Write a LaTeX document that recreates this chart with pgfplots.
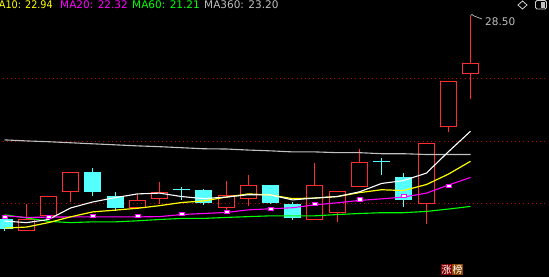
\documentclass[border=0pt]{standalone}
\usepackage{pgfplots}
\usepackage{pgfplotstable}
\pgfplotsset{compat=1.18}
\usepackage{fontspec}
\newfontfamily\dv{DejaVu Sans}
\newfontfamily\cjk{Noto Sans CJK SC}
\definecolor{cred}{RGB}{255,45,45}
\definecolor{ccyan}{RGB}{84,255,255}
\definecolor{cgray}{RGB}{192,192,192}
\definecolor{cdot}{RGB}{190,0,0}
\definecolor{cmag}{RGB}{255,0,255}
\definecolor{cyel}{RGB}{255,255,0}
\definecolor{cgrn}{RGB}{0,255,0}
\definecolor{zbg}{RGB}{128,0,0}
\definecolor{bbg}{RGB}{139,69,0}

% x = horizontal position of each trading day on the chart
% red (rising, hollow) candles: x, open, high, low, close
\pgfplotstableread{
x o h l c
26.5 20.27 21.31 20.27 20.70
48.5 20.87 21.59 20.87 21.59
70.5 21.79 22.50 21.37 22.50
137.5 21.16 21.69 21.16 21.43
159.5 21.53 22.13 21.31 21.73
226.5 21.18 22.17 21.05 21.63
248.5 21.53 22.40 21.21 22.01
314.5 20.70 22.86 20.70 22.01
337.5 20.99 21.82 20.61 21.77
359.5 21.99 23.42 21.99 22.88
426.5 21.33 23.61 20.55 23.61
448.5 24.28 26.00 24.05 26.00
470.5 26.31 28.50 25.31 26.69
}\redtab

% cyan (falling, filled) candles: x, open, high, low, close
\pgfplotstableread{
x o h l c
4.5 20.71 20.71 20.27 20.36
92.5 22.51 22.70 21.60 21.79
115.5 21.58 21.77 21.03 21.18
181.5 21.87 21.95 21.44 21.85
203.5 21.82 21.86 21.25 21.37
270.5 22.01 22.05 21.31 21.37
292.5 21.28 21.37 20.70 20.80
381.5 22.95 23.06 22.40 22.93
403.5 22.32 22.51 21.18 21.49
}\cyantab

% moving averages
\pgfplotstableread{
x ma5 ma10 ma20 ma60 ma360
4.5 20.65 20.38 20.85 20.89 23.76
26.5 20.59 20.42 20.79 20.77 23.72
48.5 20.71 20.59 20.80 20.64 23.69
70.5 21.15 20.81 20.81 20.59 23.65
92.5 21.38 21.00 20.81 20.62 23.61
115.5 21.55 21.07 20.81 20.62 23.57
137.5 21.69 21.14 20.81 20.66 23.53
159.5 21.72 21.24 20.82 20.71 23.50
181.5 21.59 21.36 20.90 20.75 23.46
203.5 21.51 21.42 20.94 20.75 23.42
226.5 21.57 21.57 20.98 20.79 23.41
248.5 21.66 21.69 21.08 20.82 23.37
270.5 21.65 21.65 21.12 20.85 23.34
292.5 21.46 21.51 21.16 20.85 23.30
314.5 21.53 21.53 21.27 20.85 23.30
337.5 21.59 21.59 21.35 20.90 23.27
359.5 21.77 21.74 21.44 20.94 23.27
381.5 22.09 21.85 21.50 20.97 23.23
403.5 22.20 21.82 21.57 20.97 23.23
426.5 22.49 22.05 21.72 21.02 23.20
448.5 23.31 22.45 22.03 21.11 23.20
470.5 24.09 22.94 22.32 21.21 23.20
}\matab

\pgfplotstableread{
x v
4.5 20.82
48.5 20.82
92.5 20.85
137.5 20.85
181.5 20.93
226.5 21.02
270.5 21.13
314.5 21.31
359.5 21.48
403.5 21.62
448.5 22.01
}\sqtab

\pgfplotsset{kbase/.style={hide axis, scale only axis, width=549pt, height=277pt,
  xmin=0, xmax=549, ymin=18.5065, ymax=29.1195,
  at={(0pt,0pt)}, anchor=south west}}

\begin{document}
\begin{tikzpicture}
\useasboundingbox (0pt,0pt) rectangle (549pt,277pt);
\fill[black] (0pt,0pt) rectangle (549pt,277pt);

% dotted guide lines and wicks
\begin{axis}[kbase]
\addplot[cdot, line width=1pt, dash pattern=on 1pt off 3.2pt] coordinates {(-10,26.11) (560,26.11)};
\addplot[cdot, line width=1pt, dash pattern=on 1pt off 3.2pt] coordinates {(-10,23.70) (560,23.70)};
\addplot[cdot, line width=1pt, dash pattern=on 1pt off 3.2pt] coordinates {(-10,21.32) (560,21.32)};
% red wicks (upper and lower, outside the hollow body)
\addplot[draw=none, mark=none, error bars/.cd, y dir=plus, y explicit, error mark=none,
  error bar style={draw=cred, solid, line width=1pt}]
  table[x=x, y=c, y error plus expr=\thisrow{h}-\thisrow{c}] {\redtab};
\addplot[draw=none, mark=none, error bars/.cd, y dir=minus, y explicit, error mark=none,
  error bar style={draw=cred, solid, line width=1pt}]
  table[x=x, y=o, y error minus expr=\thisrow{o}-\thisrow{l}] {\redtab};
% cyan wicks
\addplot[draw=none, mark=none, error bars/.cd, y dir=both, y explicit, error mark=none,
  error bar style={draw=ccyan, solid, line width=1pt}]
  table[x=x, y=c, y error plus expr=\thisrow{h}-\thisrow{c}, y error minus expr=\thisrow{c}-\thisrow{l}] {\cyantab};
\end{axis}

% red bodies
\begin{axis}[kbase, ybar stacked, bar width=16]
\addplot[draw=none, fill=none] table[x=x, y=o] {\redtab};
\addplot[draw=cred, fill=none, solid, line width=1pt] table[x=x, y expr=\thisrow{c}-\thisrow{o}] {\redtab};
\end{axis}

% cyan bodies
\begin{axis}[kbase, ybar stacked, bar width=16]
\addplot[draw=none, fill=none] table[x=x, y=c] {\cyantab};
\addplot[draw=ccyan, fill=ccyan, solid, line width=1pt] table[x=x, y expr=\thisrow{o}-\thisrow{c}] {\cyantab};
\end{axis}

% moving averages
\begin{axis}[kbase]
\addplot[cgray, line width=1.1pt] table[x=x, y=ma360] {\matab};
\addplot[cgrn, line width=1.1pt] table[x=x, y=ma60] {\matab};
\addplot[cmag, line width=1.1pt] table[x=x, y=ma20] {\matab};
\addplot[cyel, line width=1.2pt] table[x=x, y=ma10] {\matab};
\addplot[white, line width=1.1pt] table[x=x, y=ma5] {\matab};
\addplot[only marks, mark=square*, mark size=2pt,
  mark options={fill=white, draw=cmag, line width=0.6pt, xscale=1.3, yscale=0.8}]
  table[x=x, y=v] {\sqtab};
\end{axis}

% legend
\begin{scope}[every node/.style={inner sep=0pt, font=\dv\fontsize{10.5}{12}\selectfont}]
\node[anchor=base east, text=cyel] at (53pt,269pt) {\scalebox{0.92}[1]{MA10: 22.94}};
\node[anchor=base west, text=cmag] at (60pt,269pt) {MA20: 22.32};
\node[anchor=base west, text=cgrn] at (132pt,269pt) {MA60: 21.21};
\node[anchor=base west, text=cgray] at (204pt,269pt) {MA360: 23.20};
\node[anchor=base west, text=cgray] at (485pt,252pt) {28.50};
\end{scope}
\draw[cgray, line width=0.7pt] (470.5pt,261.5pt) -- (472pt,262.5pt) -- (474pt,261pt) -- (482pt,258pt);

% top-right icons
\draw[cgray!80, line width=0.8pt] (522.5pt,276pt) -- (527pt,272pt) -- (522.5pt,268pt) -- (518pt,272pt) -- cycle;
\draw[cgray!80, line width=0.8pt, rounded corners=1.5pt] (535.5pt,268pt) rectangle (546.5pt,276.5pt);
\fill[cgray] (540.5pt,269.5pt) rectangle (545pt,275pt);

% bottom label
\fill[zbg] (441pt,2pt) rectangle (452pt,13pt);
\fill[bbg] (452pt,2pt) rectangle (463pt,13pt);
\node[inner sep=0pt, text=white, font=\cjk\fontsize{10}{10}\selectfont] at (446.5pt,7.5pt) {涨};
\node[inner sep=0pt, text=white, font=\cjk\fontsize{10}{10}\selectfont] at (457.5pt,7.5pt) {榜};
\end{tikzpicture}
\end{document}
